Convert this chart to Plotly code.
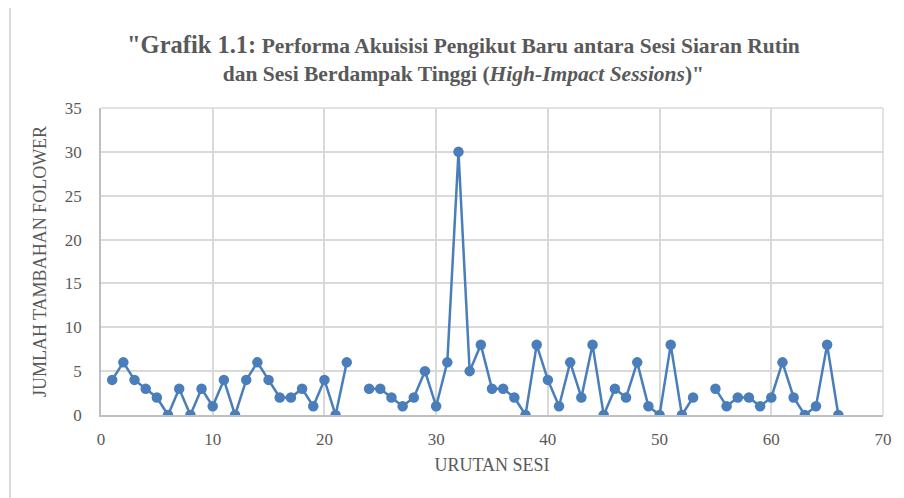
import plotly.graph_objects as go

sesi = list(range(1, 67))
follower = [4, 6, 4, 3, 2, 0, 3, 0, 3, 1,
            4, 0, 4, 6, 4, 2, 2, 3, 1, 4,
            0, 6, None, 3, 3, 2, 1, 2, 5, 1,
            6, 30, 5, 8, 3, 3, 2, 0, 8, 4,
            1, 6, 2, 8, 0, 3, 2, 6, 1, 0,
            8, 0, 2, None, 3, 1, 2, 2, 1, 2,
            6, 2, 0, 1, 8, 0]

x_ticks = [0, 10, 20, 30, 40, 50, 60, 70]
y_ticks = [0, 5, 10, 15, 20, 25, 30, 35]

title_html = ('<span style="font-size:24.5px">"Grafik 1.1:</span> '
              'Performa Akuisisi Pengikut Baru antara Sesi Siaran Rutin<br>'
              'dan Sesi Berdampak Tinggi (<i>High-Impact Sessions</i>)"')

serif = "Liberation Serif"
gray = "#595959"
grid = "#d9d9d9"
axis_c = "#bfbfbf"

# page body has an 8px margin; figure sized to fit the 904x498 window
W, H = 896, 490
L, R, T, B = 93, 21, 100, 83
pw, ph = W - L - R, H - T - B

fig = go.Figure()
fig.add_trace(go.Scatter(
    x=sesi, y=follower, mode="lines+markers",
    line=dict(color="#4a7ebb", width=2.5),
    marker=dict(color="#4a7ebb", size=10.5),
    connectgaps=False, showlegend=False,
))

fig.update_layout(
    width=W, height=H,
    margin=dict(l=L, r=R, t=T, b=B),
    paper_bgcolor="white", plot_bgcolor="white",
    xaxis=dict(range=[0, 70], tickvals=x_ticks, showgrid=True, gridcolor=grid, gridwidth=1.5,
               zeroline=False, showline=True, linecolor=axis_c, linewidth=1.5,
               ticks="", ticklabelstandoff=8, tickfont=dict(family=serif, size=17, color=gray),
               title=dict(text="URUTAN SESI", font=dict(family=serif, size=18, color=gray), standoff=10)),
    yaxis=dict(range=[0, 35], tickvals=y_ticks, showgrid=True, gridcolor=grid, gridwidth=1.5,
               zeroline=False, showline=True, linecolor=axis_c, linewidth=1.5,
               ticks="", ticklabelstandoff=14, tickfont=dict(family=serif, size=17, color=gray),
               title=dict(text="JUMLAH TAMBAHAN FOLOWER", font=dict(family=serif, size=18, color=gray), standoff=14)),
    shapes=[
        dict(type="line", xref="paper", yref="paper", x0=1, x1=1, y0=0, y1=1,
             line=dict(color=grid, width=1.5)),
        dict(type="line", xref="paper", yref="paper", x0=0, x1=1, y0=1, y1=1,
             line=dict(color=grid, width=1.5)),
        dict(type="rect", xref="paper", yref="paper",
             x0=(2 - L) / pw, x1=1.2, y0=-0.5, y1=1 + (T + 1) / ph,
             line=dict(color=grid, width=2), fillcolor="rgba(0,0,0,0)", layer="below"),
    ],
    annotations=[dict(text=title_html, xref="paper", yref="paper",
                      x=(455 - L) / pw, y=1 + (T - 21) / ph, xanchor="center", yanchor="top",
                      showarrow=False, align="center",
                      font=dict(family=serif, size=21.5, color=gray, weight="bold"))],
)

fig.write_html("out.html")
